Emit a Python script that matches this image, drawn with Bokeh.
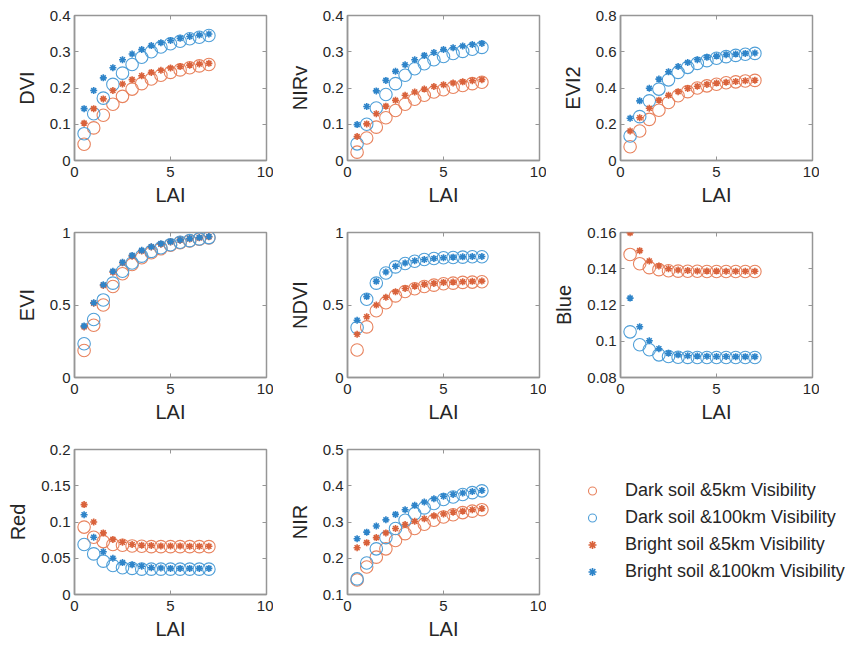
from bokeh.plotting import figure
from bokeh.layouts import row, column
from bokeh.models import (Range1d, FixedTicker, LinearAxis, CustomJSTickFormatter,
                          Legend, LegendItem)
from bokeh.embed import file_html
from bokeh.resources import INLINE

# ---------------- data ----------------
lai = [0.5, 1.0, 1.5, 2.0, 2.5, 3.0, 3.5, 4.0, 4.5, 5.0, 5.5, 6.0, 6.5, 7.0]
x_ticks = [0, 5, 10]

series_names = ["Dark soil &5km Visibility", "Dark soil &100km Visibility",
                "Bright soil &5km Visibility", "Bright soil &100km Visibility"]

dvi_d5 = [0.045, 0.090, 0.125, 0.155, 0.177, 0.197, 0.212, 0.225, 0.235, 0.243, 0.250, 0.256, 0.261, 0.265]
dvi_d100 = [0.074, 0.129, 0.172, 0.210, 0.241, 0.265, 0.285, 0.300, 0.313, 0.322, 0.329, 0.336, 0.340, 0.345]
dvi_b5 = [0.103, 0.143, 0.170, 0.193, 0.211, 0.223, 0.234, 0.243, 0.249, 0.255, 0.259, 0.263, 0.266, 0.268]
dvi_b100 = [0.143, 0.193, 0.228, 0.256, 0.278, 0.294, 0.306, 0.317, 0.325, 0.331, 0.337, 0.342, 0.346, 0.349]
dvi_ticks = [0, 0.1, 0.2, 0.3, 0.4]

nirv_d5 = [0.023, 0.062, 0.092, 0.118, 0.138, 0.155, 0.169, 0.180, 0.189, 0.195, 0.202, 0.207, 0.212, 0.216]
nirv_d100 = [0.046, 0.100, 0.145, 0.182, 0.212, 0.235, 0.253, 0.267, 0.278, 0.287, 0.295, 0.301, 0.307, 0.312]
nirv_b5 = [0.066, 0.101, 0.129, 0.150, 0.166, 0.180, 0.189, 0.197, 0.204, 0.209, 0.214, 0.217, 0.220, 0.223]
nirv_b100 = [0.099, 0.149, 0.192, 0.221, 0.246, 0.264, 0.278, 0.290, 0.298, 0.306, 0.311, 0.316, 0.320, 0.323]
nirv_ticks = [0, 0.1, 0.2, 0.3, 0.4]

evi2_d5 = [0.076, 0.163, 0.227, 0.277, 0.320, 0.357, 0.380, 0.400, 0.412, 0.421, 0.429, 0.434, 0.439, 0.442]
evi2_d100 = [0.135, 0.242, 0.329, 0.394, 0.445, 0.486, 0.514, 0.536, 0.551, 0.564, 0.573, 0.580, 0.586, 0.591]
evi2_b5 = [0.163, 0.236, 0.288, 0.333, 0.360, 0.380, 0.397, 0.410, 0.420, 0.427, 0.432, 0.436, 0.440, 0.443]
evi2_b100 = [0.233, 0.329, 0.399, 0.449, 0.490, 0.519, 0.541, 0.556, 0.569, 0.576, 0.584, 0.587, 0.591, 0.593]
evi2_ticks = [0, 0.2, 0.4, 0.6, 0.8]

evi_d5 = [0.186, 0.360, 0.500, 0.628, 0.716, 0.779, 0.826, 0.860, 0.888, 0.912, 0.930, 0.942, 0.953, 0.963]
evi_d100 = [0.233, 0.400, 0.535, 0.651, 0.733, 0.790, 0.837, 0.870, 0.895, 0.916, 0.933, 0.944, 0.956, 0.965]
evi_b5 = [0.349, 0.512, 0.635, 0.726, 0.791, 0.837, 0.872, 0.900, 0.919, 0.935, 0.947, 0.956, 0.963, 0.970]
evi_b100 = [0.356, 0.516, 0.640, 0.733, 0.795, 0.842, 0.877, 0.902, 0.923, 0.937, 0.949, 0.958, 0.965, 0.972]
evi_ticks = [0, 0.5, 1]

ndvi_d5 = [0.190, 0.349, 0.460, 0.516, 0.563, 0.593, 0.612, 0.628, 0.637, 0.647, 0.651, 0.656, 0.658, 0.660]
ndvi_d100 = [0.344, 0.540, 0.651, 0.721, 0.763, 0.786, 0.802, 0.814, 0.821, 0.826, 0.828, 0.830, 0.833, 0.833]
ndvi_b5 = [0.298, 0.419, 0.500, 0.553, 0.591, 0.614, 0.630, 0.642, 0.649, 0.656, 0.658, 0.660, 0.663, 0.665]
ndvi_b100 = [0.395, 0.558, 0.663, 0.728, 0.767, 0.790, 0.805, 0.814, 0.821, 0.826, 0.830, 0.832, 0.834, 0.835]
ndvi_ticks = [0, 0.5, 1]

blue_d5 = [0.1479, 0.1428, 0.1406, 0.1395, 0.1389, 0.1387, 0.1386, 0.1386, 0.1385, 0.1385, 0.1385, 0.1385, 0.1385, 0.1385]
blue_d100 = [0.1052, 0.0981, 0.0953, 0.0925, 0.0916, 0.0912, 0.0911, 0.0910, 0.0910, 0.0910, 0.0910, 0.0910, 0.0910, 0.0910]
blue_b5 = [0.1598, 0.1500, 0.1443, 0.1415, 0.1400, 0.1393, 0.1390, 0.1388, 0.1387, 0.1387, 0.1386, 0.1386, 0.1386, 0.1386]
blue_b100 = [0.1238, 0.1080, 0.1003, 0.0959, 0.0934, 0.0925, 0.0920, 0.0918, 0.0917, 0.0916, 0.0916, 0.0915, 0.0915, 0.0915]
blue_ticks = [0.08, 0.1, 0.12, 0.14, 0.16]

red_d5 = [0.093, 0.079, 0.073, 0.069, 0.068, 0.067, 0.0665, 0.066, 0.066, 0.066, 0.066, 0.066, 0.066, 0.066]
red_d100 = [0.069, 0.056, 0.046, 0.040, 0.037, 0.036, 0.035, 0.035, 0.035, 0.035, 0.035, 0.035, 0.035, 0.035]
red_b5 = [0.124, 0.100, 0.085, 0.076, 0.072, 0.069, 0.068, 0.0675, 0.067, 0.067, 0.067, 0.0665, 0.0665, 0.0665]
red_b100 = [0.110, 0.079, 0.059, 0.050, 0.044, 0.041, 0.039, 0.037, 0.0365, 0.036, 0.036, 0.036, 0.036, 0.036]
red_ticks = [0, 0.05, 0.1, 0.15, 0.2]

nir_d5 = [0.140, 0.176, 0.203, 0.226, 0.249, 0.268, 0.282, 0.294, 0.305, 0.314, 0.320, 0.326, 0.330, 0.334]
nir_d100 = [0.143, 0.187, 0.226, 0.257, 0.282, 0.305, 0.323, 0.339, 0.351, 0.362, 0.369, 0.376, 0.381, 0.386]
nir_b5 = [0.229, 0.243, 0.257, 0.270, 0.282, 0.293, 0.302, 0.309, 0.317, 0.322, 0.327, 0.330, 0.334, 0.337]
nir_b100 = [0.254, 0.272, 0.289, 0.306, 0.321, 0.334, 0.346, 0.355, 0.364, 0.371, 0.376, 0.380, 0.384, 0.387]
nir_ticks = [0.1, 0.2, 0.3, 0.4, 0.5]

# ---------------- style ----------------
FONT = "Liberation Sans"
ORANGE_C = "#E8835E"
BLUE_C = "#4F9FD8"
ORANGE_S = "#D9623B"
BLUE_S = "#2E84C9"
GRAY = "#969696"
TEXT = "#262626"

styles = [
    dict(marker="circle", size=12.5, fill_color=None, line_color=ORANGE_C, line_width=1.1),
    dict(marker="circle", size=12.5, fill_color=None, line_color=BLUE_C, line_width=1.1),
    dict(marker="asterisk", size=7, line_color=ORANGE_S, line_width=1.6),
    dict(marker="asterisk", size=7, line_color=BLUE_S, line_width=1.6),
]

fmt_code = "return String(Math.round(tick * 1e6) / 1e6);"

B_LEFT, B_RIGHT, B_TOP = 74, 7, 15


def style_axis(ax, ticks, label, is_x):
    ax.ticker = FixedTicker(ticks=ticks)
    ax.formatter = CustomJSTickFormatter(code=fmt_code)
    ax.axis_label = label
    ax.axis_label_text_font = FONT
    ax.axis_label_text_font_size = "20px"
    ax.axis_label_text_font_style = "normal"
    ax.axis_label_text_color = TEXT
    ax.major_label_text_font = FONT
    ax.major_label_text_font_size = "15px"
    ax.major_label_text_color = TEXT
    ax.axis_line_color = GRAY
    ax.axis_line_width = 1.5
    ax.major_tick_line_color = GRAY
    ax.major_tick_in = 4
    ax.major_tick_out = 0
    ax.minor_tick_line_color = None
    if is_x:
        ax.major_label_standoff = 6
        ax.axis_label_standoff = 4
    else:
        ax.major_label_standoff = 4
        ax.axis_label_standoff = 9


def tick_only_axis(ticks):
    return LinearAxis(ticker=FixedTicker(ticks=ticks), major_label_text_font_size="0px",
                      major_label_standoff=0, major_tick_in=4, major_tick_out=0,
                      major_tick_line_color=GRAY, minor_tick_line_color=None,
                      axis_line_color=None, formatter=CustomJSTickFormatter(code="return '';"))


def make_panel(ylabel, yticks, data, bottom=57):
    p = figure(frame_width=192, frame_height=145,
               x_range=Range1d(x_ticks[0], x_ticks[-1]),
               y_range=Range1d(yticks[0], yticks[-1]),
               output_backend="svg", toolbar_location=None,
               min_border_left=B_LEFT, min_border_right=B_RIGHT, min_border_top=B_TOP,
               min_border_bottom=bottom)
    p.grid.visible = False
    p.outline_line_color = GRAY
    p.outline_line_width = 1.5
    p.outline_line_alpha = 1.0
    style_axis(p.xaxis[0], x_ticks, "LAI", True)
    style_axis(p.yaxis[0], yticks, ylabel, False)
    p.add_layout(tick_only_axis(x_ticks), "above")
    p.add_layout(tick_only_axis(yticks), "right")
    for ys, st in zip(data, styles):
        p.scatter(lai, ys, **st)
    return p


p_dvi = make_panel("DVI", dvi_ticks, [dvi_d5, dvi_d100, dvi_b5, dvi_b100])
p_nirv = make_panel("NIRv", nirv_ticks, [nirv_d5, nirv_d100, nirv_b5, nirv_b100])
p_evi2 = make_panel("EVI2", evi2_ticks, [evi2_d5, evi2_d100, evi2_b5, evi2_b100])
p_evi = make_panel("EVI", evi_ticks, [evi_d5, evi_d100, evi_b5, evi_b100])
p_ndvi = make_panel("NDVI", ndvi_ticks, [ndvi_d5, ndvi_d100, ndvi_b5, ndvi_b100])
p_blue = make_panel("Blue", blue_ticks, [blue_d5, blue_d100, blue_b5, blue_b100])
p_red = make_panel("Red", red_ticks, [red_d5, red_d100, red_b5, red_b100], bottom=48)
p_nir = make_panel("NIR", nir_ticks, [nir_d5, nir_d100, nir_b5, nir_b100], bottom=48)

# legend panel (same top/bottom borders as its row so frames stay aligned)
p_leg = figure(frame_width=304, frame_height=145,
               x_range=Range1d(x_ticks[0], x_ticks[-1]),
               y_range=Range1d(nir_ticks[0], nir_ticks[-1]),
               output_backend="svg", toolbar_location=None,
               min_border_left=6, min_border_right=0, min_border_top=B_TOP,
               min_border_bottom=48)
p_leg.axis.visible = False
p_leg.grid.visible = False
p_leg.outline_line_color = None
items = []
for name, ys, st in zip(series_names, [nir_d5, nir_d100, nir_b5, nir_b100], styles):
    r = p_leg.scatter(lai, ys, visible=False, **st)
    items.append(LegendItem(label=name, renderers=[r]))
leg = Legend(items=items, location="top_left", margin=30, padding=0,
             border_line_color=None, background_fill_alpha=0,
             glyph_width=20, glyph_height=23, label_height=23, spacing=4,
             label_standoff=23, label_text_font=FONT, label_text_font_size="18px",
             label_text_color=TEXT, click_policy="none")
p_leg.add_layout(leg, "center")

layout = column(row(p_dvi, p_nirv, p_evi2),
                row(p_evi, p_ndvi, p_blue),
                row(p_red, p_nir, p_leg))

open("out.html", "w").write(file_html(layout, INLINE))
